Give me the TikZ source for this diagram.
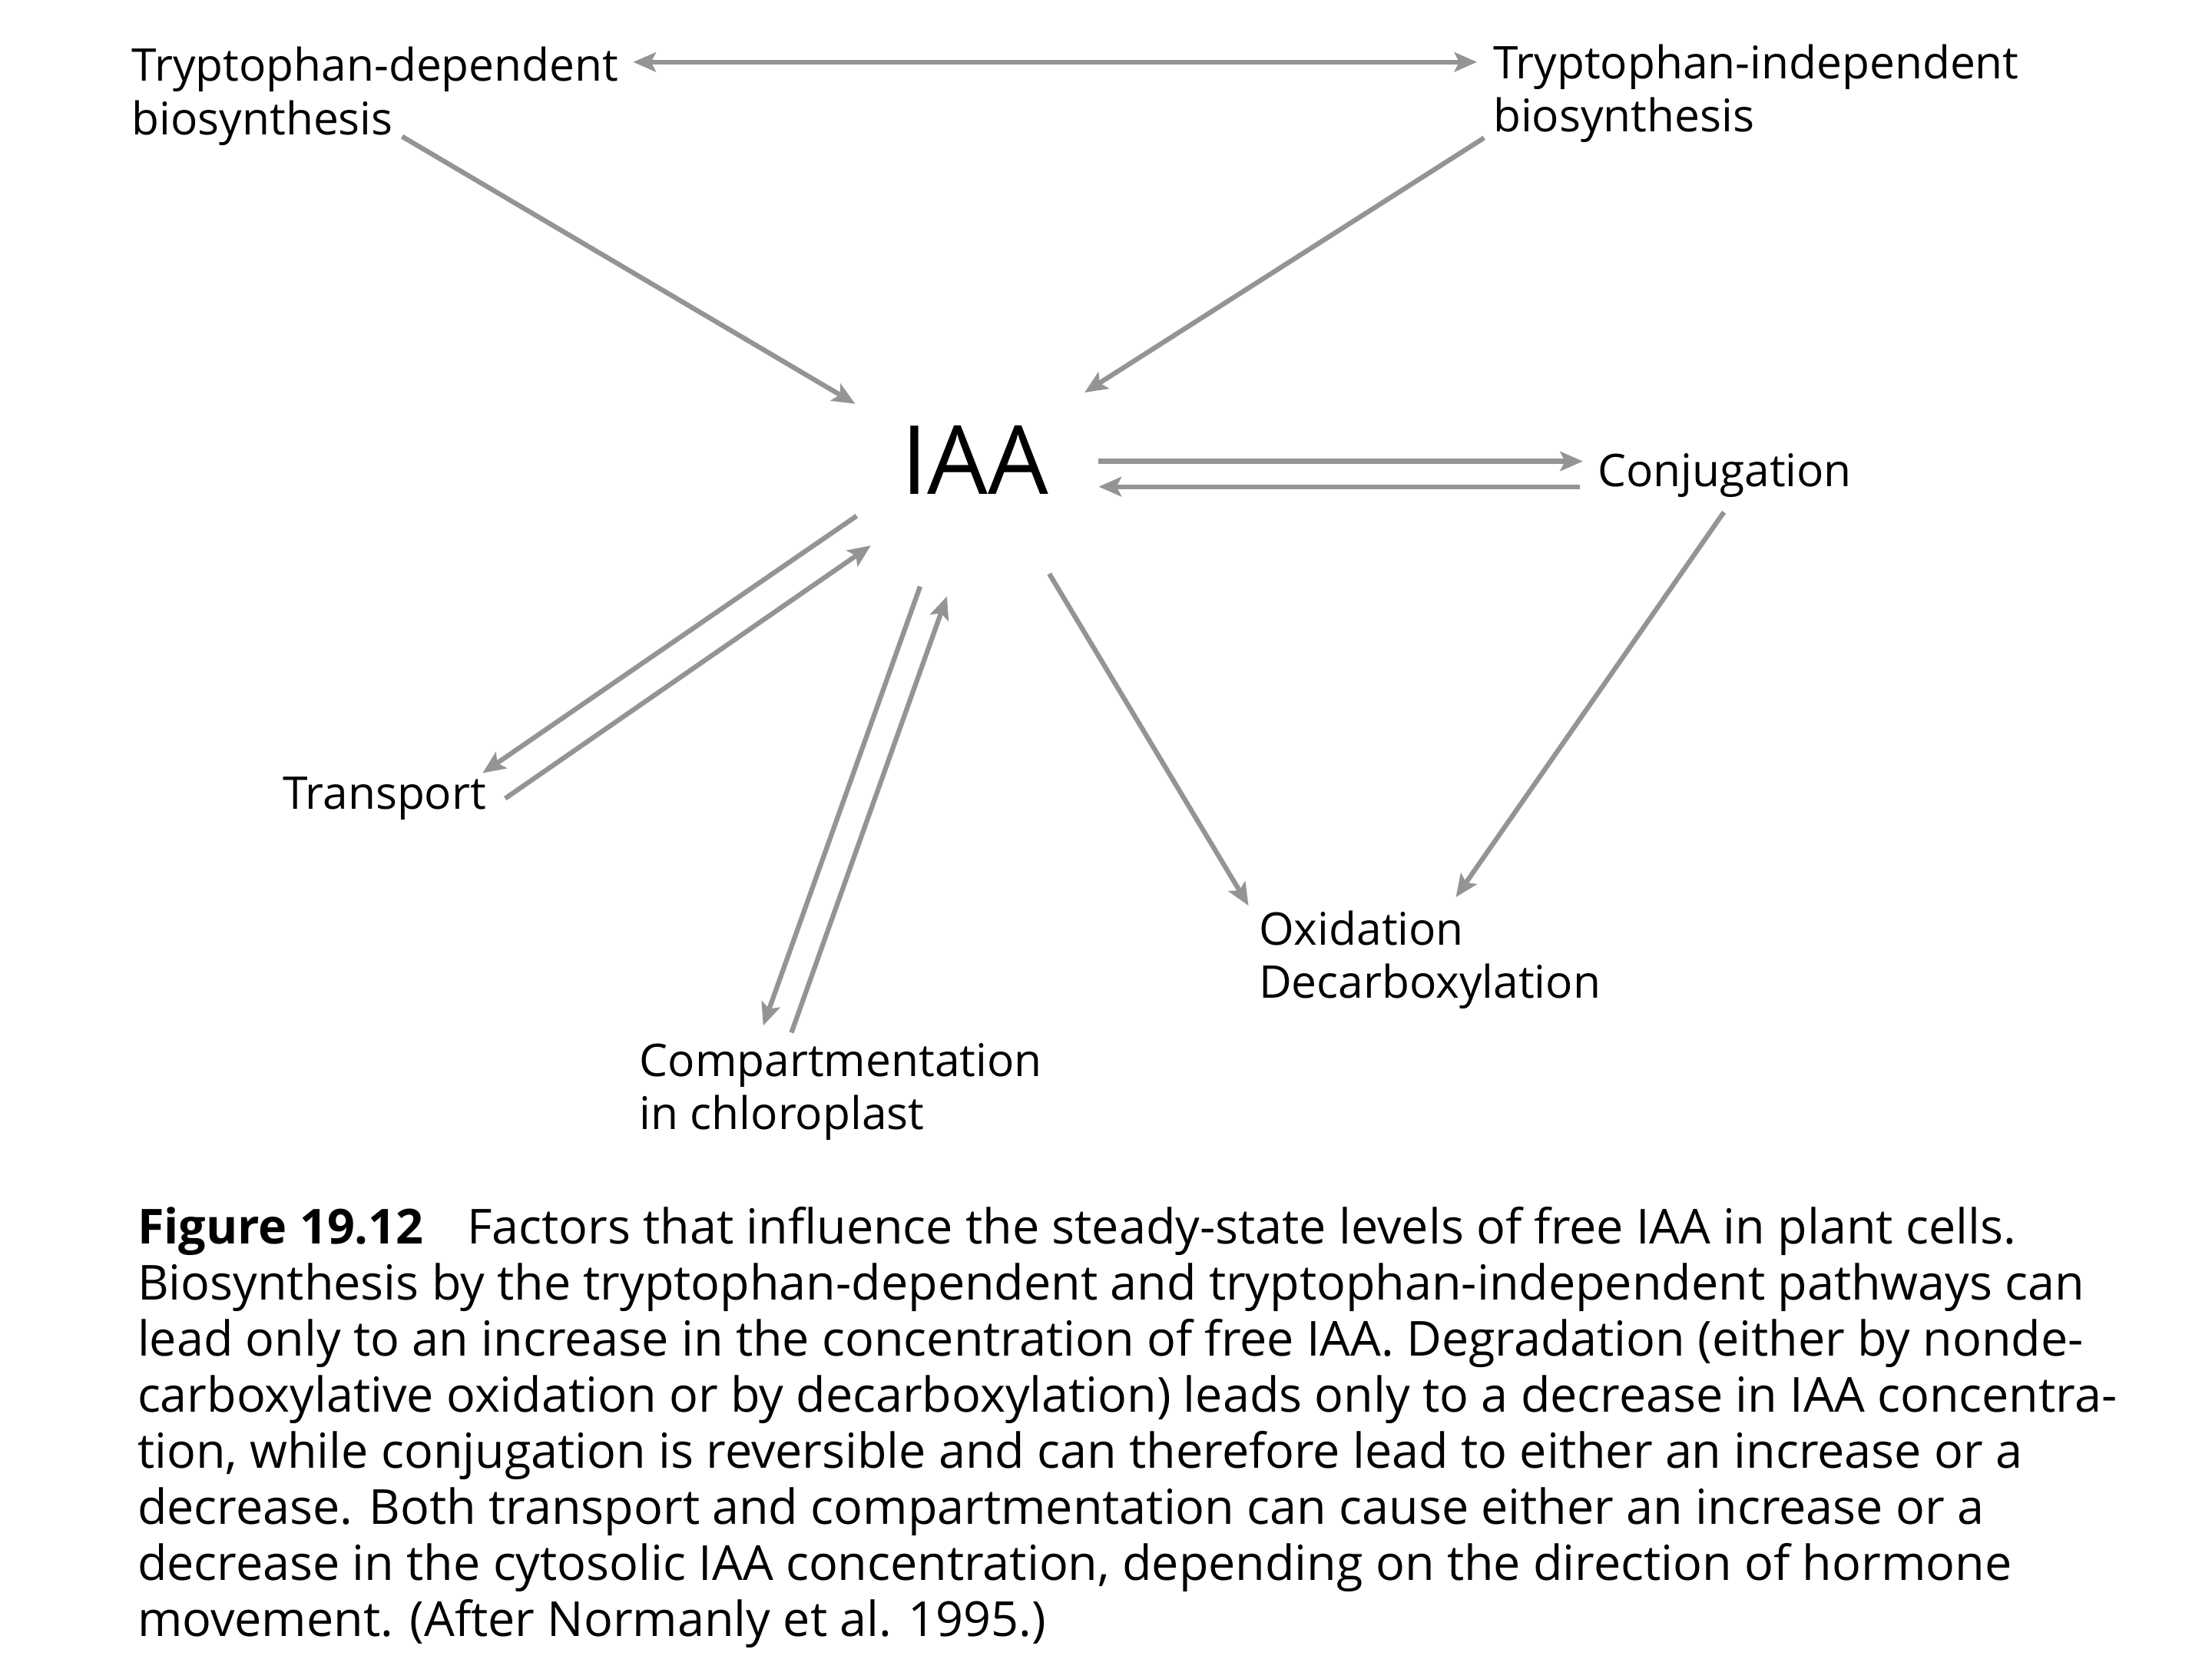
\documentclass[tikz,border=0pt]{standalone}
\usepackage{fontspec}
\setmainfont{Open Sans}
\usetikzlibrary{arrows.meta}
\definecolor{arrowgray}{gray}{0.58}

\begin{document}
\begin{tikzpicture}[x=0.0153cm, y=-0.0153cm,
    flow/.style={draw=arrowgray, line width=1.5pt, -{Stealth[length=7pt,width=6pt,inset=1.5pt]}},
    twoway/.style={flow, {Stealth[length=7pt,width=6pt,inset=1.5pt]}-{Stealth[length=7pt,width=6pt,inset=1.5pt]}},
    lbl/.style={inner sep=0pt, align=left, font=\fontsize{13.9}{16.5}\selectfont}]

\useasboundingbox (0,0) rectangle (1568,1176);

\node[lbl, anchor=north west] (tdep) at (93,33) {Tryptophan-dependent\\biosynthesis};
\node[lbl, anchor=north west] (tind) at (1058,31) {Tryptophan-independent\\biosynthesis};
\node[inner sep=0pt, font=\fontsize{29.5}{34}\selectfont] (iaa) at (691,326) {IAA};
\node[lbl, anchor=west] (conj) at (1132,337) {Conjugation};
\node[lbl, anchor=west] (trans) at (200,566) {Transport};
\node[lbl, anchor=north west] (oxid) at (892,645) {Oxidation\\Decarboxylation};
\node[lbl, anchor=north west] (comp) at (453,739) {Compartmentation\\in chloroplast};

\draw [twoway] ([shift={(10,11)}]tdep.north east) -- ([shift={(-11,13)}]tind.north west);
\draw [flow] ([shift={(192,-7)}]tdep.south west) -- ([shift={(-32,-15)}]iaa.north west);
\draw [flow] ([shift={(-6,-4)}]tind.south west) -- ([shift={(25,-23)}]iaa.north east);

\draw [flow] ([shift={(35,1)}]iaa.east) -- ([shift={(-10,-10)}]conj.west);
\draw [flow] ([shift={(-12,8)}]conj.west) -- ([shift={(35,19)}]iaa.east);
\draw [flow] ([shift={(90,10)}]conj.south west) -- ([shift={(140,-9)}]oxid.north west);
\draw [flow] ([shift={(0,56)}]iaa.south east) -- ([shift={(-7,-3)}]oxid.north west);

\draw [flow] ([shift={(-31,15)}]iaa.south west) -- ([shift={(-3,-18)}]trans.east);
\draw [flow] ([shift={(13,0)}]trans.east) -- ([shift={(-21,36)}]iaa.south west);
\draw [flow] ([shift={(14,65)}]iaa.south west) -- ([shift={(88,-12)}]comp.north west);
\draw [flow] ([shift={(108,-7)}]comp.north west) -- ([shift={(33,72)}]iaa.south west);

% caption
\node[inner sep=0pt, anchor=north west, align=left, font=\fontsize{14.9}{17.3}\selectfont] (caption) at (97,855)
  {\textbf{Figure 19.12}\hspace{0.9em}Factors that influence the steady-state levels of free IAA in plant cells.\\
   Biosynthesis by the tryptophan-dependent and tryptophan-independent pathways can\\
   lead only to an increase in the concentration of free IAA. Degradation (either by nonde-\\
   carboxylative oxidation or by decarboxylation) leads only to a decrease in IAA concentra-\\
   tion, while conjugation is reversible and can therefore lead to either an increase or a\\
   decrease. Both transport and compartmentation can cause either an increase or a\\
   decrease in the cytosolic IAA concentration, depending on the direction of hormone\\
   movement. (After Normanly et al. 1995.)};

\end{tikzpicture}
\end{document}
